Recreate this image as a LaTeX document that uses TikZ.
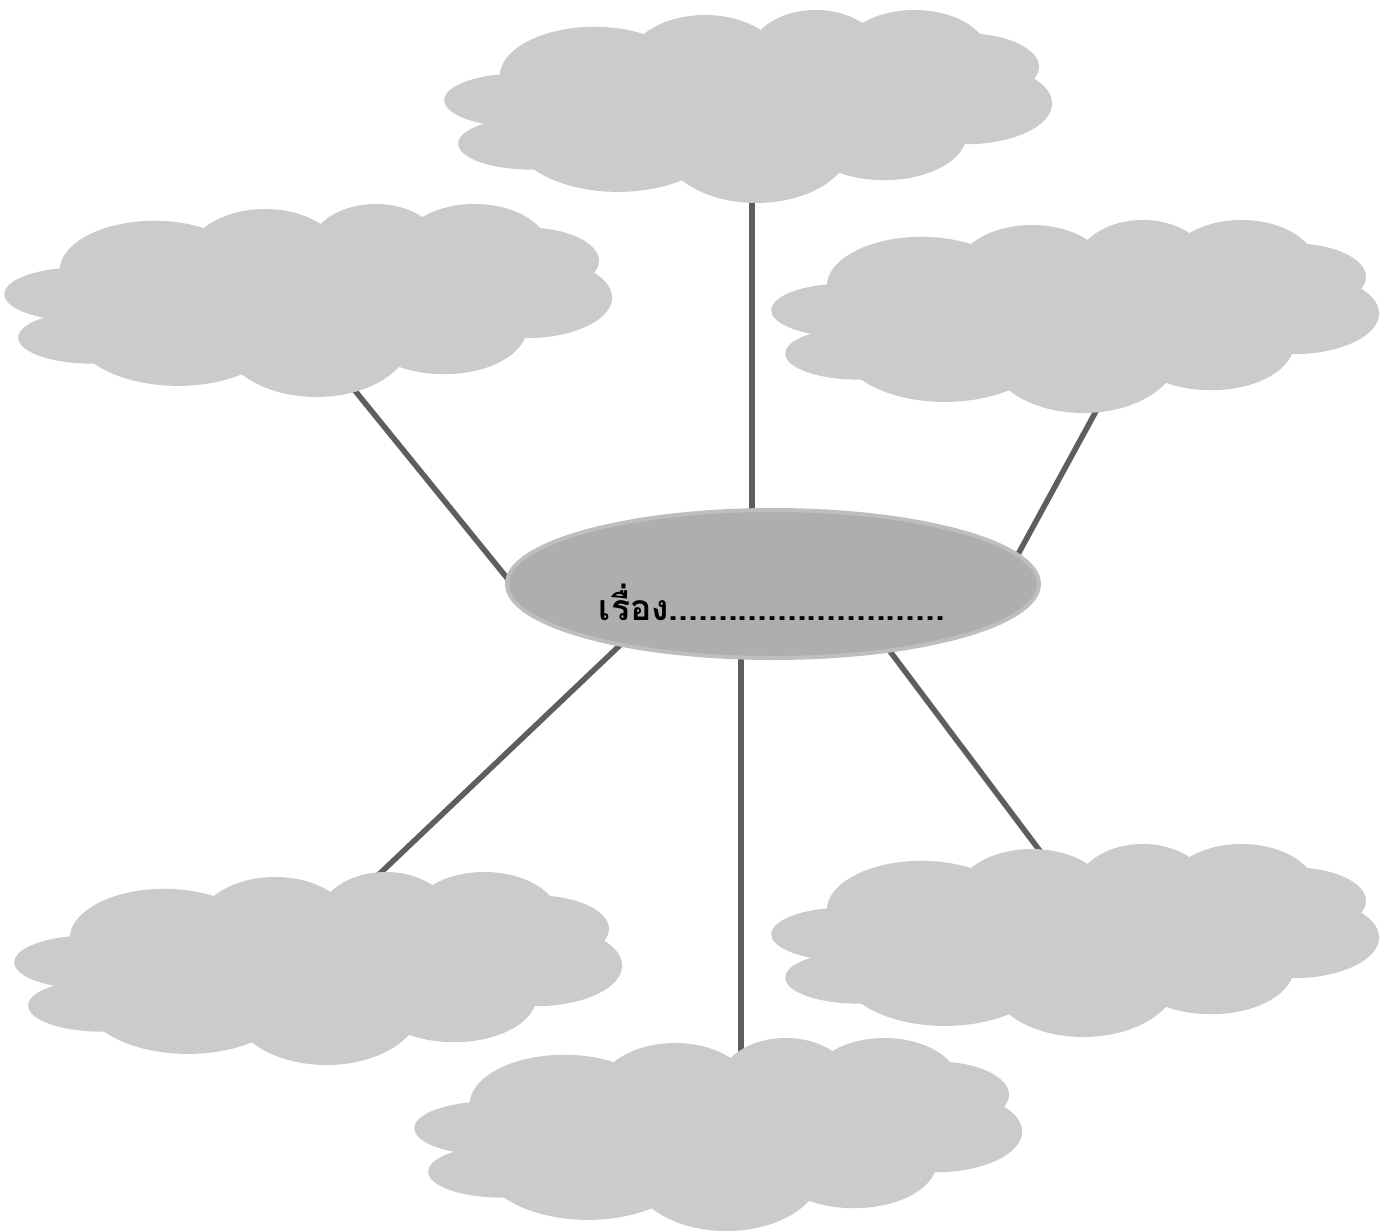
\documentclass[tikz,border=0pt]{standalone}
\usepackage{fontspec}
\usetikzlibrary{shapes.geometric}
\newfontfamily\thaifont[Script=Thai]{Loma}
\definecolor{cloudgray}{HTML}{CBCBCB}
\definecolor{topicfill}{HTML}{AEAEAE}
\definecolor{topicedge}{HTML}{BEBEBE}
\definecolor{linkgray}{HTML}{5E5E5E}
\tikzset{
  link/.style={draw=linkgray,line width=5.5pt},
  topic/.style={ellipse,fill=topicfill,draw=topicedge,line width=4pt,inner sep=0pt,minimum width=532pt,minimum height=148pt},
  pics/mycloud/.style={code={
    \fill[cloudgray] (74.3,90.2) ellipse [x radius=75, y radius=26.7];
    \fill[cloudgray] (86.2,133.6) ellipse [x radius=73, y radius=26];
    \fill[cloudgray] (149.4,66.8) ellipse [x radius=94.8, y radius=50];
    \fill[cloudgray] (260,56.8) ellipse [x radius=79, y radius=51.8];
    \fill[cloudgray] (370.7,46.7) ellipse [x radius=67.2, y radius=46.7];
    \fill[cloudgray] (469.5,46.7) ellipse [x radius=75, y radius=46.7];
    \fill[cloudgray] (520.9,56.8) ellipse [x radius=73.1, y radius=33.4];
    \fill[cloudgray] (520.9,93.5) ellipse [x radius=86.2, y radius=40.7];
    \fill[cloudgray] (439,123.5) ellipse [x radius=83, y radius=46.7];
    \fill[cloudgray] (311.4,133.6) ellipse [x radius=94.8, y radius=59.4];
    \fill[cloudgray] (173,123.5) ellipse [x radius=106.7, y radius=58.4];
    \fill[cloudgray] (303,95) ellipse [x radius=230, y radius=60];
  }}
}
\begin{document}
\begin{tikzpicture}[x=1pt,y=-1pt]
\useasboundingbox (0,0) rectangle (1392,1231);
% connector end points
\coordinate (cT) at (752,190);
\coordinate (cUL) at (352,387);
\coordinate (cUR) at (1101,402);
\coordinate (cLL) at (372,881);
\coordinate (cB) at (741,1055);
\coordinate (cLR) at (1046,859);
\coordinate (eT) at (752,530);
\coordinate (eUL) at (520,594);
\coordinate (eUR) at (1010,569);
\coordinate (eLL) at (636,630);
\coordinate (eB) at (741,640);
\coordinate (eLR) at (883,642);
% connectors
\draw[link] (eT) -- (cT);
\draw[link] (eUL) -- (cUL);
\draw[link] (eUR) -- (cUR);
\draw[link] (eLL) -- (cLL);
\draw[link] (eB) -- (cB);
\draw[link] (eLR) -- (cLR);
% clouds
\pic at (445,10) {mycloud};
\pic at (5,204) {mycloud};
\pic at (772,220) {mycloud};
\pic at (15,872) {mycloud};
\pic at (772,844) {mycloud};
\pic at (415,1038) {mycloud};
% topic
\node[topic] (topic) at (773,584) {};
\node[anchor=base,inner sep=0pt] (title) at (772,620) {\thaifont\fontsize{35.5}{42}\selectfont\bfseries เรื่อง............................};
\end{tikzpicture}
\end{document}
